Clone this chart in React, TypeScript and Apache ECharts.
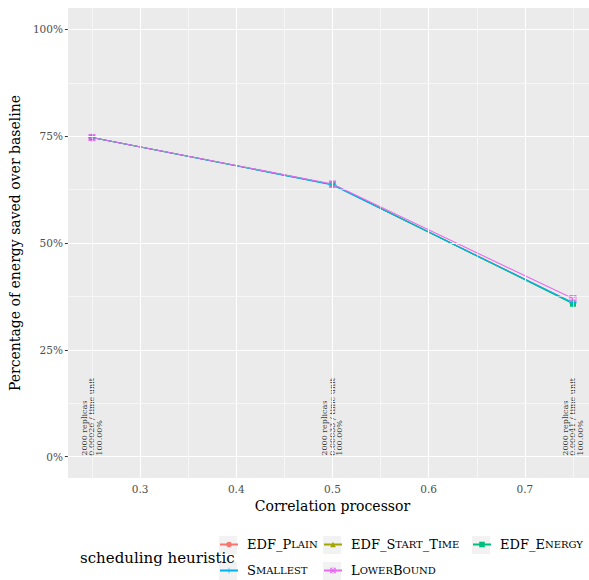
import React, { useEffect, useRef } from "react";
import * as echarts from "echarts";

const xValues = [0.25, 0.5, 0.75];
const seriesNames = ["EDF_Plain", "EDF_Start_Time", "EDF_Energy", "Smallest", "LowerBound"];
const plainValues = [74.7, 63.7, 36.0];
const startTimeValues = [74.7, 63.7, 35.9];
const energyValues = [74.7, 63.7, 35.8];
const smallestValues = [74.7, 63.6, 36.0];
const lowerBoundValues = [74.7, 63.8, 37.0];
const replicaLabels = ["2000 replicas", "2000 replicas", "2000 replicas"];
const rateLabels = ["0.00026 / time unit", "0.00033 / time unit", "0.00041 / time unit"];
const percentLabels = ["100.00%", "100.00%", "100.00%"];
const xTicks = [0.3, 0.4, 0.5, 0.6, 0.7];
const xMinor = [0.25, 0.35, 0.45, 0.55, 0.65, 0.75];
const yTicks = [0, 25, 50, 75, 100];
const yMinor = [12.5, 37.5, 62.5, 87.5];

const colors = ["#F8766D", "#A3A500", "#00BF7D", "#00B0F6", "#E76BF3"];
const PLUS = "path://M4.5 0H5.5V4.5H10V5.5H5.5V10H4.5V5.5H0V4.5H4.5Z";
const BOXX =
  "path://M0 0H10V10H0Z M1.2 1.2V8.8H8.8V1.2Z M1.2 1.2L2.2 1.2L8.8 7.8L8.8 8.8L7.8 8.8L1.2 2.2Z M8.8 1.2L8.8 2.2L2.2 8.8L1.2 8.8L1.2 7.8L7.8 1.2Z";
const symbols = ["circle", "triangle", "rect", PLUS, BOXX];
const FONT = "DejaVu Serif";

const legendRich: Record<string, string> = {
  EDF_Plain: "{n|EDF_P}{sc|LAIN}",
  EDF_Start_Time: "{n|EDF_S}{sc|TART}{n|_T}{sc|IME}",
  EDF_Energy: "{n|EDF_E}{sc|NERGY}",
  Smallest: "{n|S}{sc|MALLEST}",
  LowerBound: "{n|L}{sc|OWER}{n|B}{sc|OUND}",
};
const legendPos = [
  [219, 536],
  [323, 536],
  [472, 536],
  [219, 562],
  [323, 562],
];

export default function App() {
  const ref = useRef<HTMLDivElement>(null);
  useEffect(() => {
    if (!ref.current) return;
    const chart = echarts.init(ref.current, null, { renderer: "svg" });
    const allValues = [plainValues, startTimeValues, energyValues, smallestValues, lowerBoundValues];
    const lineSeries = seriesNames.map((name, i) => ({
      name,
      type: "line",
      data: xValues.map((x, j) => [x, allValues[i][j]]),
      symbol: symbols[i],
      symbolSize: i === 3 ? 8 : i === 4 ? 7 : 6,
      color: colors[i],
      lineStyle: { width: 1.1, color: colors[i] },
      itemStyle: { color: colors[i] },
      z: 3,
    }));
    const gridLines = {
      type: "scatter",
      data: [[0.5, 50]],
      symbolSize: 0,
      silent: true,
      z: 1,
      markLine: {
        silent: true,
        symbol: ["none", "none"],
        label: { show: false },
        animation: false,
        data: [
          ...xMinor.map((v) => ({ xAxis: v, lineStyle: { color: "#FFFFFF", width: 0.55, type: "solid" } })),
          ...yMinor.map((v) => ({ yAxis: v, lineStyle: { color: "#FFFFFF", width: 0.55, type: "solid" } })),
          ...xTicks.map((v) => ({ xAxis: v, lineStyle: { color: "#FFFFFF", width: 1.1, type: "solid" } })),
          ...yTicks.map((v) => ({ yAxis: v, lineStyle: { color: "#FFFFFF", width: 1.1, type: "solid" } })),
        ],
      },
    };
    const annotations = {
      type: "scatter",
      data: xValues.map((x) => [x, 0]),
      symbolSize: 0,
      silent: true,
      z: 4,
      label: {
        show: true,
        position: [0, -1],
        rotate: 90,
        align: "left",
        verticalAlign: "middle",
        fontFamily: FONT,
        fontSize: 8,
        lineHeight: 7.5,
        color: "#000",
        formatter: (p: any) =>
          replicaLabels[p.dataIndex] + "\n" + rateLabels[p.dataIndex] + "\n" + percentLabels[p.dataIndex],
      },
    };
    const legends = seriesNames.map((name, i) => ({
      data: [name],
      left: legendPos[i][0],
      top: legendPos[i][1] + 2,
      itemWidth: 18,
      itemHeight: 7,
      padding: 0,
      selectedMode: false,
      formatter: () => legendRich[name],
      textStyle: {
        fontFamily: FONT,
        fontSize: 13,
        color: "#000",
        padding: [0, 0, 0, 4],
        rich: {
          n: { fontFamily: FONT, fontSize: 13, color: "#000" },
          sc: { fontFamily: FONT, fontSize: 10, color: "#000" },
        },
      },
    }));
    chart.setOption({
      animation: false,
      grid: {
        left: 67,
        top: 8,
        width: 530,
        height: 470,
        show: true,
        backgroundColor: "#EBEBEB",
        borderWidth: 0,
      },
      xAxis: {
        type: "value",
        min: 0.225,
        max: 0.775,
        name: "Correlation processor",
        nameLocation: "middle",
        nameGap: 20,
        nameTextStyle: { fontFamily: FONT, fontSize: 14, color: "#000" },
        axisLine: { show: false },
        axisTick: { show: true, length: 3, customValues: xTicks, lineStyle: { color: "#333", width: 1 } },
        axisLabel: {
          customValues: xTicks,
          fontFamily: FONT,
          fontSize: 10.5,
          color: "#4D4D4D",
          margin: 5,
          formatter: (v: number) => String(Math.round(v * 10) / 10),
        },
        splitLine: { show: false },
      },
      yAxis: {
        type: "value",
        min: -5,
        max: 105,
        name: "Percentage of energy saved over baseline",
        nameLocation: "middle",
        nameGap: 39,
        nameRotate: 90,
        nameTextStyle: { fontFamily: FONT, fontSize: 14, color: "#000" },
        axisLine: { show: false },
        axisTick: { show: true, length: 3, customValues: yTicks, lineStyle: { color: "#333", width: 1 } },
        axisLabel: {
          customValues: yTicks,
          fontFamily: FONT,
          fontSize: 10.5,
          color: "#4D4D4D",
          margin: 5,
          formatter: (v: number) => v + "%",
        },
        splitLine: { show: false },
      },
      legend: legends,
      graphic: [
        ...legendPos.map((p) => ({
          type: "rect",
          left: p[0],
          top: p[1],
          shape: { width: 18, height: 18 },
          style: { fill: "#F2F2F2" },
          z: 0,
        })),
        {
          type: "text",
          left: 80,
          top: 550,
          style: { text: "scheduling heuristic", fontFamily: FONT, fontSize: 15, fill: "#000" },
          z: 0,
        },
      ],
      series: [gridLines, ...lineSeries, annotations],
    });
    return () => chart.dispose();
  }, []);
  return (
    <div style={{ position: "fixed", left: 0, top: 0, width: 589, height: 580, overflow: "hidden", background: "#fff" }}>
      <div ref={ref} style={{ width: 600, height: 580 }} />
    </div>
  );
}
